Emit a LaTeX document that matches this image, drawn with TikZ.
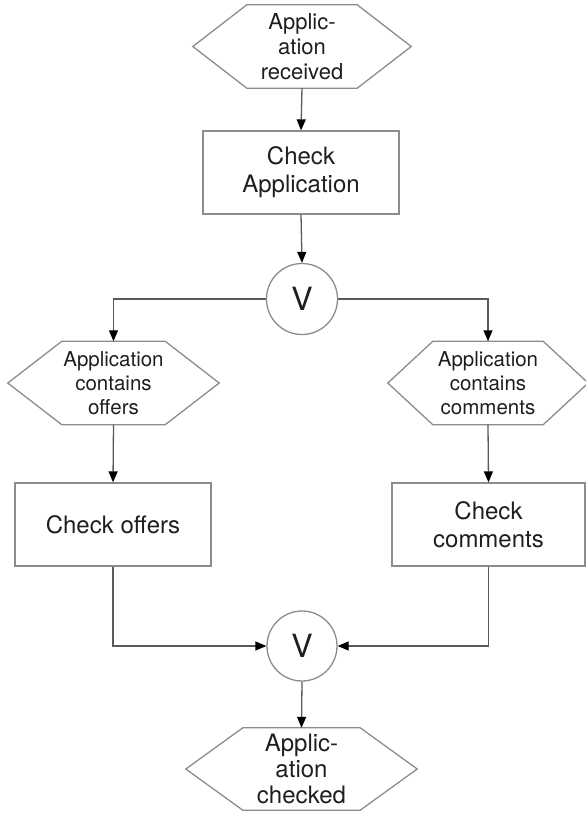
\documentclass[tikz,border=0pt]{standalone}
\usepackage{fontspec}
\setmainfont{TeX Gyre Heros}
\usetikzlibrary{arrows.meta}

\definecolor{edgegray}{HTML}{8C8C8C}
\definecolor{linegray}{HTML}{5A5A5A}
\definecolor{inkgray}{HTML}{1E1E1E}

\begin{document}
\begin{tikzpicture}[x=1pt,y=-1pt,
  every node/.style={text=inkgray, inner sep=0pt, align=center},
  event/.style={minimum height=83pt, font=\fontsize{22}{25}\selectfont},
  action/.style={draw=edgegray, line width=1.3pt, minimum height=83pt,
    font=\fontsize{24}{28}\selectfont},
  gate/.style={circle, draw=edgegray, line width=1.3pt, minimum size=71pt,
    font=\fontsize{32}{36}\selectfont},
  outline/.style={draw=edgegray, line width=1.3pt, line join=miter},
  flow/.style={draw=linegray, line width=1.3pt,
    -{Triangle[length=11pt,width=9pt,color=black]}}
]
\useasboundingbox (0,0) rectangle (586,814);

% events (hexagons are drawn around these nodes below)
\node[event, minimum width=110pt] (start) at (302,46.5) {Applic-\\ation\\received};
\node[event, minimum width=103pt, font=\fontsize{20.5}{24}\selectfont] (offers) at (113.5,383) {Application\\contains\\offers};
\node[event, minimum width=110pt, font=\fontsize{20.5}{24}\selectfont] (comments) at (488,383) {Application\\contains\\comments};
\node[event, minimum width=117pt, minimum height=82pt, font=\fontsize{24}{26}\selectfont] (done) at (301.5,769) {Applic-\\ation\\checked};

% functions
\node[action, minimum width=196pt] (check) at (301,172.5) {Check\\Application};
\node[action, minimum width=196pt] (checkoffers) at (113,524.5) {Check offers};
\node[action, minimum width=193pt] (checkcomments) at (488.5,524.5) {Check\\comments};

% connectors
\node[gate] (split) at (302,299) {V};
\node[gate, minimum size=70pt] (join) at (302,646) {V};

% hexagon outlines
\foreach \n/\e in {start/54, offers/54, comments/45, done/57}
  \draw[outline] (\n.north west) -- (\n.north east) -- ([xshift=\e pt]\n.east)
    -- (\n.south east) -- (\n.south west) -- ([xshift=-\e pt]\n.west) -- cycle;

% control flow
\draw[flow] (start.south) -- (check.north);
\draw[flow] (check.south) -- (split.north);
\draw[flow] (split.west) -| (offers.north);
\draw[flow] (split.east) -| (comments.north);
\draw[flow] (offers.south) -- (checkoffers.north);
\draw[flow] (comments.south) -- (checkcomments.north);
\draw[flow] (checkoffers.south) |- (join.west);
\draw[flow] (checkcomments.south) |- (join.east);
\draw[flow] (join.south) -- (done.north);
\end{tikzpicture}
\end{document}
